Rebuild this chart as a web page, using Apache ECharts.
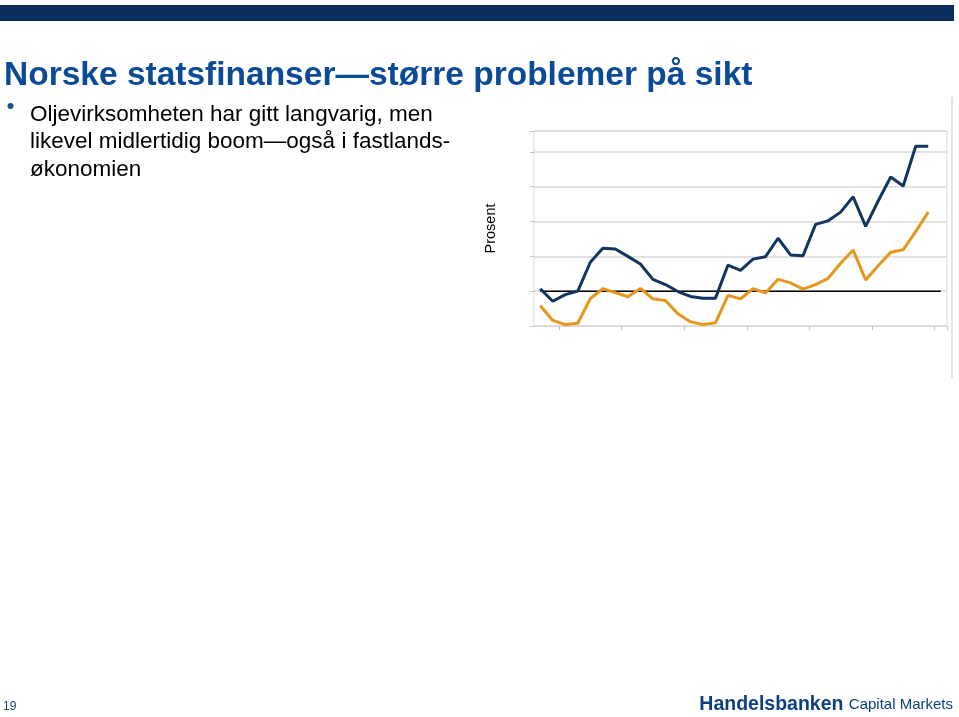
<!DOCTYPE html>
<html>
<head>
<meta charset="utf-8">
<script src="https://cdn.jsdelivr.net/npm/echarts@6/dist/echarts.min.js"></script>
<style>
html,body{margin:0;padding:0;background:#fff;}
#chart{width:959px;height:717px;}
</style>
</head>
<body>
<div id="chart"></div>
<script>
var categories = ['1976','1977','1978','1979','1980','1981','1982','1983','1984','1985','1986','1987','1988','1989','1990','1991','1992','1993','1994','1995','1996','1997','1998','1999','2000','2001','2002','2003','2004','2005','2006','2007','2008'];
var darkSeries = [0.07,-0.29,-0.10,0.00,0.83,1.23,1.21,1.00,0.78,0.34,0.19,-0.01,-0.15,-0.20,-0.20,0.75,0.60,0.92,0.99,1.52,1.04,1.02,1.92,2.02,2.27,2.71,1.86,2.59,3.28,3.02,4.16,4.16];
var orangeSeries = [-0.42,-0.84,-0.96,-0.92,-0.21,0.07,-0.04,-0.16,0.08,-0.22,-0.27,-0.65,-0.88,-0.96,-0.91,-0.12,-0.22,0.07,-0.05,0.34,0.24,0.06,0.19,0.37,0.80,1.18,0.32,0.73,1.12,1.19,1.71,2.27];
var zeroLine = [0,0,0,0,0,0,0,0,0,0,0,0,0,0,0,0,0,0,0,0,0,0,0,0,0,0,0,0,0,0,0,0,0];
var titleText = 'Norske statsfinanser\u2014st\u00f8rre problemer p\u00e5 sikt';
var bulletLines = ['Oljevirksomheten har gitt langvarig, men', 'likevel midlertidig boom\u2014ogs\u00e5 i fastlands-', '\u00f8konomien'];
var yAxisName = 'Prosent';
var pageNumber = '19';

var chart = echarts.init(document.getElementById('chart'), null, {renderer:'canvas'});
var font = '"Liberation Sans", Arial, sans-serif';
chart.setOption({
  animation:false,
  backgroundColor:'#ffffff',
  textStyle:{fontFamily:font},
  grid:{left:534, right:12, top:131, bottom:391, show:true, borderColor:'#d9d9d9', borderWidth:1, containLabel:false},
  xAxis:{
    type:'category', data:categories, boundaryGap:true,
    axisLine:{show:true, onZero:false, lineStyle:{color:'#d9d9d9', width:1}},
    axisTick:{show:true, length:4, lineStyle:{color:'#c0c0c0'}, interval:function(i){return (i-2)%5===0;}},
    axisLabel:{show:false},
    splitLine:{show:false}
  },
  yAxis:{
    type:'value', min:-1, max:4.6, interval:1,
    name:yAxisName, nameLocation:'middle', nameRotate:90, nameGap:36,
    nameTextStyle:{fontFamily:font, fontSize:14.5, color:'#000'},
    axisLine:{show:false},
    axisTick:{show:true, length:4, lineStyle:{color:'#c0c0c0'}},
    axisLabel:{show:false},
    splitLine:{show:true, lineStyle:{color:'#d9d9d9', width:1.5}}
  },
  series:[
    {type:'line', data:zeroLine, symbol:'none', lineStyle:{color:'#000', width:1.5}, z:2},
    {type:'line', data:orangeSeries, symbol:'none', lineStyle:{color:'#e8951c', width:3}, z:3},
    {type:'line', data:darkSeries, symbol:'none', lineStyle:{color:'#12355f', width:3}, z:4}
  ],
  graphic:[
    {type:'rect', shape:{x:0, y:5, width:954, height:16}, style:{fill:'#0a2e5c'}},
    {type:'line', shape:{x1:952, y1:97, x2:952, y2:378}, style:{stroke:'#e3e3e3', lineWidth:2}},
    {type:'text', left:4, top:59, style:{text:titleText, fontFamily:font, fontWeight:'bold', fontSize:33.5, fill:'#0b4a97'}},
    {type:'circle', shape:{cx:10.5, cy:106, r:3}, style:{fill:'#1d4f8c'}},
    {type:'text', left:30, top:101, style:{text:bulletLines.join('\n'), fontFamily:font, fontSize:22.5, lineHeight:27.5, fill:'#000'}},
    {type:'text', left:3, top:701, style:{text:pageNumber, fontFamily:font, fontSize:12, fill:'#1c3f6e'}},
    {type:'text', right:6, top:695, style:{rich:{a:{fontFamily:font, fontWeight:'bold', fontSize:19.5, fill:'#0d3f82'}, b:{fontFamily:font, fontSize:15, fill:'#0d3f82', padding:[0,0,0,2]}}, text:'{a|Handelsbanken} {b|Capital Markets}'}}
  ]
});
</script>
</body>
</html>
